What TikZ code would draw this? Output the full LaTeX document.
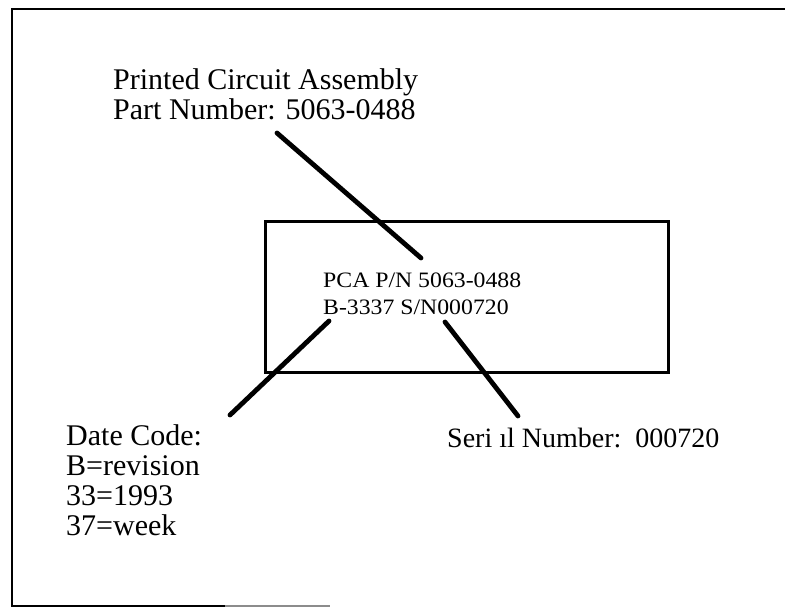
\documentclass[tikz,border=0pt]{standalone}
\usepackage{fontspec}
\setmainfont{Liberation Serif}
\newfontfamily\boardfont[FakeStretch=1.08]{Liberation Serif}
\begin{document}
\begin{tikzpicture}[x=1pt,y=-1pt,
  frame/.style={line width=2.2pt,black},
  leader/.style={line width=4.8pt,line cap=round,black},
  label/.style={inner sep=0pt,align=left,font=\fontsize{30}{30}\selectfont},
  marking/.style={inner sep=0pt,align=left,font=\boardfont\fontsize{22}{27}\selectfont}]
\useasboundingbox (0,0) rectangle (785,608);
% outer frame (open on the right, as scanned)
\draw[frame] (785,9) -- (12,9) -- (12,606) -- (225,606);
\draw[frame,black!45] (225,606) -- (330,606);
% board outline
\node[draw,line width=3pt,minimum width=403pt,minimum height=151pt,inner sep=0pt] (board) at (466.5,296.5) {};
% board marking
\node[marking,anchor=north west] (marking) at (323,273) {PCA P/N 5063-0488\\B-3337 S/N000720};
% labels
\node[label,anchor=north west] (pca) at (113,68) {Printed Circuit Assembly\\Part Number: 5063-0488};
\node[label,anchor=north west] (date) at (66,424) {Date Code:\\B=revision\\33=1993\\37=week};
\node[label,anchor=base west,font=\fontsize{28}{30}\selectfont] (serial) at (447,447) {Seri ıl Number:\ \ 000720};
% leader end points
\coordinate (pcaEnd) at (277,133);
\coordinate (pcaTip) at (421,258);
\coordinate (dateTip) at (329,321);
\coordinate (dateEnd) at (230,415);
\coordinate (serTip) at (445,322);
\coordinate (serEnd) at (518,416);
\draw[leader] (pcaEnd) -- (pcaTip);
\draw[leader] (dateTip) -- (dateEnd);
\draw[leader] (serTip) -- (serEnd);
\end{tikzpicture}
\end{document}
